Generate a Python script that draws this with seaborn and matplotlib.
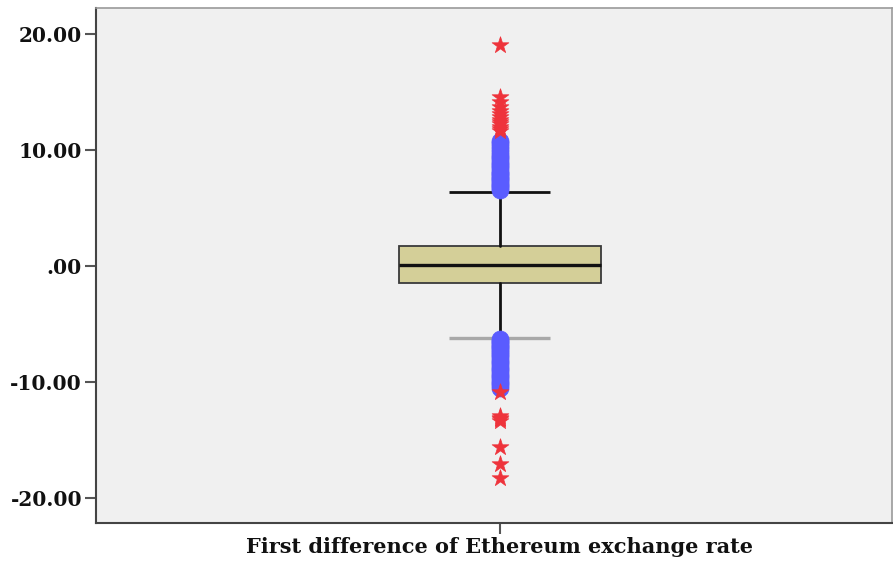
import matplotlib
matplotlib.use("Agg")
import matplotlib.pyplot as plt
import seaborn as sns
import pandas as pd

# Summary statistics of the first-differenced Ethereum exchange rate
variable_label = "First difference of Ethereum exchange rate"
q1, median, q3 = -1.47, 0.09, 1.72
whisker_low, whisker_high = -6.20, 6.38

# Mild outliers (beyond 1.5 IQR) drawn as circles
mild_high = [6.55, 6.7, 6.85, 7.0, 7.15, 7.3, 7.45, 7.6, 7.75, 7.9, 8.05, 8.2,
             8.4, 8.6, 8.8, 9.0, 9.2, 9.4, 9.6, 9.85, 10.1, 10.35, 10.6, 10.75]
mild_low = [-6.3, -6.45, -6.6, -6.75, -6.9, -7.05, -7.2, -7.35, -7.5, -7.7,
            -7.9, -8.1, -8.3, -8.5, -8.7, -8.9, -9.1, -9.3, -9.5, -9.7, -9.9,
            -10.1, -10.3, -10.55]
# Extreme outliers (beyond 3 IQR) drawn as stars
extreme_high = [11.6, 11.8, 12.0, 12.2, 12.4, 12.6, 12.85, 13.1, 13.4, 13.7,
                14.1, 14.55, 19.05]
extreme_low = [-10.93, -12.95, -13.1, -13.25, -13.4, -15.66, -17.1, -18.3]

yticks = [-20, -10, 0, 10, 20]
ytick_labels = ["-20.00", "-10.00", ".00", "10.00", "20.00"]

sns.set_style("white")
plt.rcParams["font.family"] = ["DejaVu Serif"]

fig = plt.figure(figsize=(8.93, 5.61), dpi=100)
ax = fig.add_axes([0.1075, 0.0677, 0.8915, 0.918])
ax.set_facecolor("#f0f0f0")

pos = 0.0
stats = [dict(med=median, q1=q1, q3=q3, whislo=whisker_low, whishi=whisker_high,
              fliers=[], label="")]
ax.bxp(stats, positions=[pos], widths=0.2535, patch_artist=True,
       showcaps=False, manage_ticks=False,
       boxprops=dict(facecolor="#d4cf98", edgecolor="#3a3a3a", linewidth=1.3),
       medianprops=dict(color="#111111", linewidth=2.4),
       whiskerprops=dict(color="#111111", linewidth=2.0),
       zorder=2)

# Whisker caps (lower one rendered in grey)
cap_half = 0.0635
ax.hlines(whisker_high, pos - cap_half, pos + cap_half, color="#111111",
          linewidth=2.0, zorder=2)
ax.hlines(whisker_low, pos - cap_half, pos + cap_half, color="#a8a8a8",
          linewidth=2.4, zorder=2)

mild = pd.DataFrame({"x": pos, "y": mild_high + mild_low})
extreme = pd.DataFrame({"x": pos, "y": extreme_high + extreme_low})
sns.scatterplot(data=mild, x="x", y="y", ax=ax, marker="o", s=150,
                color="#5a5cff", edgecolor="#5a5cff", linewidth=0.5, zorder=3)
sns.scatterplot(data=extreme, x="x", y="y", ax=ax, marker="*", s=160,
                color="#ee333b", edgecolor="#ee333b", linewidth=0.5, zorder=4)

ax.set_xlim(-0.507, 0.493)
ax.set_ylim(-22.2, 22.25)
ax.set_yticks(yticks)
ax.set_yticklabels(ytick_labels, fontsize=14.5, fontweight="bold", color="#111111")
ax.set_xticks([pos])
ax.set_xticklabels([variable_label], fontsize=15, fontweight="bold", color="#111111")
ax.set_xlabel("")
ax.set_ylabel("")
ax.tick_params(axis="both", direction="out", length=8, width=1.5, color="#555555",
               pad=2, left=True, bottom=True)

for side in ["left", "bottom"]:
    ax.spines[side].set_color("#444444")
    ax.spines[side].set_linewidth(1.5)
for side in ["top", "right"]:
    ax.spines[side].set_color("#9a9a9a")
    ax.spines[side].set_linewidth(1.2)

fig.savefig("out.png", dpi=100, facecolor="white")
